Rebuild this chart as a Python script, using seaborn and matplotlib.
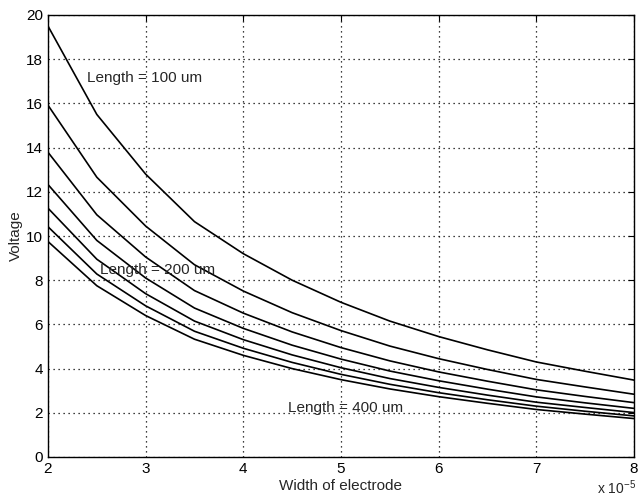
import numpy as np
import pandas as pd
import seaborn as sns
import matplotlib
matplotlib.use("Agg")
import matplotlib.pyplot as plt

# electrode width (x 1e-5) and voltage, one list per length
width = [2.0, 2.5, 3.0, 3.5, 4.0, 4.5, 5.0, 5.5, 6.0, 6.5, 7.0, 7.5, 8.0]
v_100 = [19.5, 15.5, 12.8, 10.65, 9.2, 8.0, 7.0, 6.15, 5.45, 4.85, 4.3, 3.88, 3.48]
v_150 = [15.92, 12.66, 10.45, 8.70, 7.51, 6.53, 5.72, 5.02, 4.45, 3.96, 3.51, 3.17, 2.84]
v_200 = [13.79, 10.96, 9.05, 7.53, 6.51, 5.66, 4.95, 4.35, 3.85, 3.43, 3.04, 2.74, 2.46]
v_250 = [12.33, 9.80, 8.10, 6.74, 5.82, 5.06, 4.43, 3.89, 3.45, 3.07, 2.72, 2.45, 2.20]
v_300 = [11.26, 8.95, 7.39, 6.15, 5.31, 4.62, 4.04, 3.55, 3.15, 2.80, 2.48, 2.24, 2.01]
v_350 = [10.42, 8.28, 6.84, 5.69, 4.92, 4.28, 3.74, 3.29, 2.91, 2.59, 2.30, 2.07, 1.86]
v_400 = [9.75, 7.75, 6.40, 5.33, 4.60, 4.00, 3.50, 3.08, 2.73, 2.43, 2.15, 1.94, 1.74]

lengths = [100, 150, 200, 250, 300, 350, 400]
series = [v_100, v_150, v_200, v_250, v_300, v_350, v_400]

# long form table for seaborn
rows = []
for L, vals in zip(lengths, series):
    for w, v in zip(width, vals):
        rows.append({"width": w, "voltage": v, "length": L})
df = pd.DataFrame(rows)

sns.set_style("white")
plt.rcParams["font.family"] = ["Liberation Sans", "DejaVu Sans"]

fig = plt.figure(figsize=(6.38, 5.0), dpi=100)
ax = fig.add_axes([0.0752, 0.086, 0.9185, 0.884])

sns.lineplot(data=df, x="width", y="voltage", hue="length",
             palette=["black"] * len(lengths), linewidth=1.2,
             legend=False, ax=ax)

ax.set_xlim(2, 8)
ax.set_ylim(0, 20)
ax.set_xticks(range(2, 9))
ax.set_yticks(range(0, 21, 2))
ax.grid(True, color="black", linestyle=(0, (1, 3)), linewidth=0.9)
ax.tick_params(direction="in", length=4, width=0.8, labelsize=11,
               top=True, right=True, colors="black")
for s in ax.spines.values():
    s.set_color("black")
    s.set_linewidth(1.0)

ax.set_xlabel("Width of electrode", fontsize=11, labelpad=2)
ax.set_ylabel("Voltage", fontsize=11, labelpad=2)

ax.text(2.40, 17.15, "Length = 100 um", fontsize=11, va="center")
ax.text(2.53, 8.46, "Length = 200 um", fontsize=11, va="center")
ax.text(4.46, 2.2, "Length = 400 um", fontsize=11, va="center")
# manual exponent label in the bottom right corner
fig.text(0.935, 0.012, r"x 10$^{\mathregular{-5}}$", fontsize=10, ha="left")

fig.savefig("out.png", dpi=100)
